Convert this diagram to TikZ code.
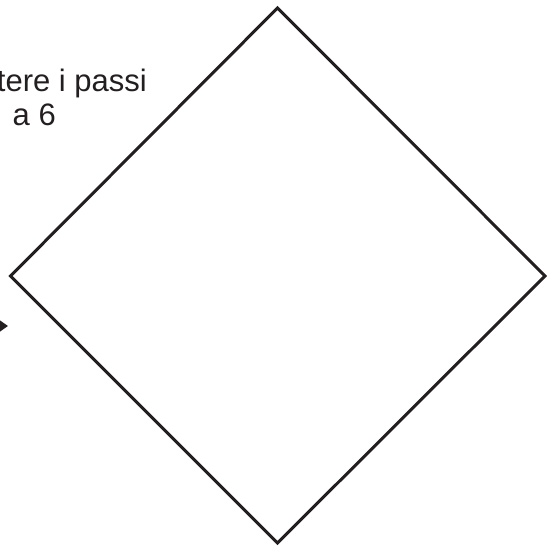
\documentclass[tikz,border=0pt]{standalone}
\usepackage{fontspec}
\setmainfont{Liberation Sans}
\usetikzlibrary{arrows.meta}
\definecolor{ink}{HTML}{231F20}
\begin{document}
\begin{tikzpicture}[x=1bp,y=-1bp,
  shapeline/.style={draw=ink,line width=3bp,line join=miter},
  txt/.style={inner sep=0pt,text=ink,font=\fontsize{31bp}{35bp}\selectfont},
  arrowline/.style={draw=ink,line width=2.2bp,-{Triangle[length=9bp,width=12bp]}}]
\useasboundingbox (0,0) rectangle (547,547);
\clip (0,0) rectangle (547,547);
\coordinate (top) at (277.5,8);
\coordinate (right) at (545,276);
\coordinate (bottom) at (277.5,543);
\coordinate (left) at (10.5,276);
\draw[shapeline] (top) -- (right) -- (bottom) -- (left) -- cycle;
\node[txt,anchor=base east] (l1) at (147,91.5) {tere i passi};
\node[txt,anchor=base east] (l2) at (56,126) {a 6};
\coordinate (arrstart) at (-30,326);
\coordinate (arrtip) at (8,326);
\draw[arrowline] (arrstart) -- (arrtip);
\end{tikzpicture}
\end{document}
